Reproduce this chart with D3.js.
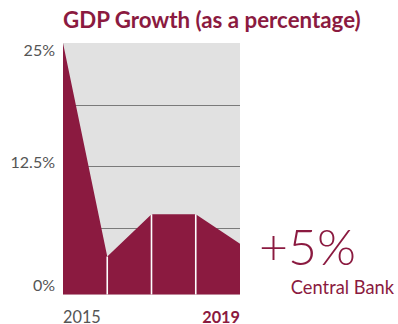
<!DOCTYPE html>
<html>
<head>
<meta charset="utf-8">
<script src="https://cdn.jsdelivr.net/npm/d3@7"></script>
<style>
  body { margin: 0; background: #fff; }
  svg { display: block; font-family: Lato, "Open Sans", sans-serif; }
</style>
</head>
<body>
<div id="chart"></div>
<script>
// chart data
var years = ["2015", "2016", "2017", "2018", "2019"];
var growth = [25, 3.3, 7.6, 7.6, 4.6];
var tickValues = [0, 12.5, 25];
var tickLabels = ["0%", "12.5%", "25%"];

var maroon = "#8b1a40";
var width = 398, height = 324;
var plot = { left: 63, right: 240, top: 43, bottom: 294.5 };

var svg = d3.select("#chart")
    .append("svg")
    .attr("width", width)
    .attr("height", height);

var x = d3.scalePoint()
    .domain(years)
    .range([plot.left, plot.right]);

var y = d3.scaleLinear()
    .domain([0, 25])
    .range([289, plot.top]);

//gray panel behind the area
svg.append("rect")
    .attr("x", plot.left)
    .attr("y", plot.top)
    .attr("width", plot.right - plot.left)
    .attr("height", plot.bottom - plot.top)
    .attr("fill", "#e1e1e1");

//gridlines at the quarter marks
svg.selectAll("line.grid")
    .data([6.25, 12.5, 18.75])
    .enter()
    .append("line")
    .attr("class", "grid")
    .attr("x1", plot.left)
    .attr("x2", plot.right)
    .attr("y1", function (d) { return Math.round(y(d)) + 0.5; })
    .attr("y2", function (d) { return Math.round(y(d)) + 0.5; })
    .attr("stroke", "#7a7a7a")
    .attr("stroke-width", 1);

var area = d3.area()
    .x(function (d, i) { return x(years[i]); })
    .y0(plot.bottom)
    .y1(function (d) { return y(d); });

svg.append("path")
    .datum(growth)
    .attr("d", area)
    .attr("fill", maroon);

//white separators at each inner year
svg.selectAll("line.sep")
    .data(growth.slice(1, -1))
    .enter()
    .append("line")
    .attr("class", "sep")
    .attr("x1", function (d, i) { return x(years[i + 1]); })
    .attr("x2", function (d, i) { return x(years[i + 1]); })
    .attr("y1", function (d) { return y(d); })
    .attr("y2", plot.bottom)
    .attr("stroke", "#fff")
    .attr("stroke-width", 1.6);

//y labels
svg.selectAll("text.ylab")
    .data(tickValues)
    .enter()
    .append("text")
    .attr("class", "ylab")
    .attr("x", 55)
    .attr("y", function (d) { return y(d) + (d === 25 ? 13 : 2); })
    .attr("text-anchor", "end")
    .attr("font-size", 16)
    .attr("fill", "#555")
    .text(function (d, i) { return tickLabels[i]; });

//x labels, first and last year only
svg.append("text")
    .attr("x", x(years[0]))
    .attr("y", 322.5)
    .attr("font-size", 16.3)
    .attr("fill", "#555")
    .text(years[0]);

svg.append("text")
    .attr("x", x(years[years.length - 1]))
    .attr("y", 322.5)
    .attr("text-anchor", "end")
    .attr("font-size", 16.3)
    .attr("font-weight", "bold")
    .attr("fill", maroon)
    .text(years[years.length - 1]);

svg.append("text")
    .attr("x", plot.left)
    .attr("y", 28)
    .attr("font-size", 22.3)
    .attr("font-weight", "bold")
    .attr("fill", maroon)
    .text("GDP Growth (as a percentage)");

svg.append("text")
    .attr("x", 259)
    .attr("y", 265)
    .attr("font-size", 50)
    .attr("font-weight", 300)
    .attr("fill", maroon)
    .text("+5%");

svg.append("text")
    .attr("x", 394)
    .attr("y", 294)
    .attr("text-anchor", "end")
    .attr("font-size", 18.3)
    .attr("fill", maroon)
    .text("Central Bank");
</script>
</body>
</html>
